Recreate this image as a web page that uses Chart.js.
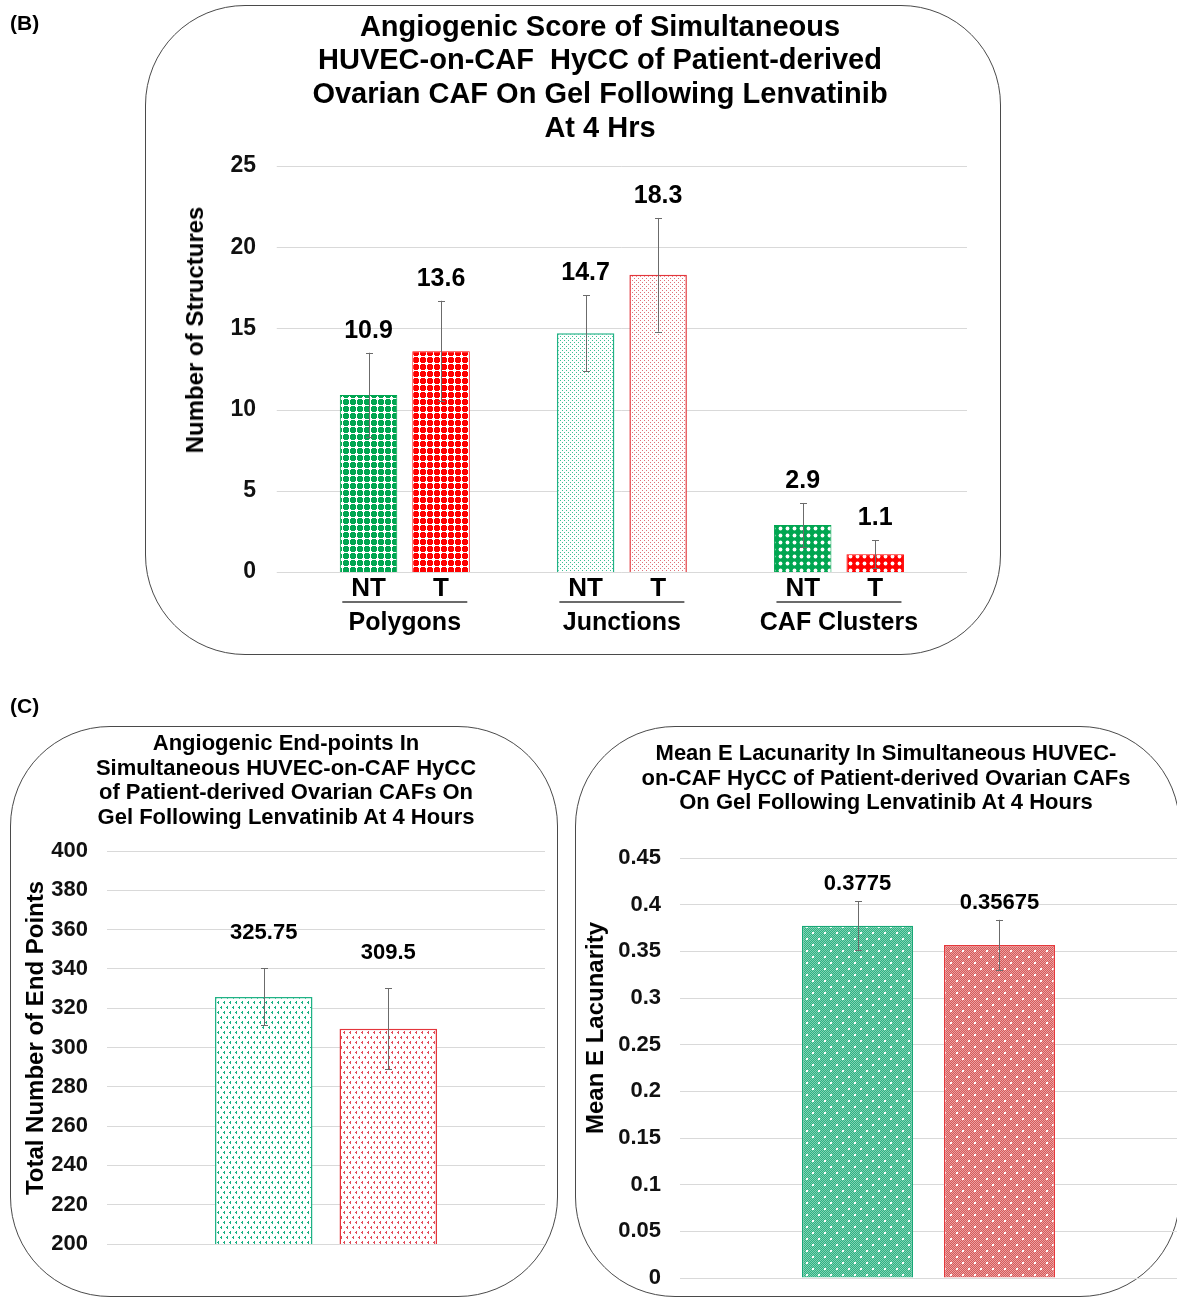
<!DOCTYPE html>
<html>
<head>
<meta charset="utf-8">
<script src="https://cdn.jsdelivr.net/npm/chart.js@4.4.1/dist/chart.umd.min.js"></script>
<style>
  html, body { margin: 0; padding: 0; background: #fff; }
  body { position: relative; width: 1177px; height: 1299px; overflow: hidden;
         font-family: "Liberation Sans", Arial, sans-serif; font-weight: bold; color: #000; }
  .frame { position: absolute; box-sizing: border-box; border: 1.5px solid #4a4a4a; border-radius: 100px; }
  .panel { position: absolute; font-size: 21px; line-height: 21px; }
  .title { position: absolute; text-align: center; white-space: pre; }
  .ytitle { position: absolute; white-space: nowrap; font-size: 24px; line-height: 24px;
            transform: translate(-50%, -50%) rotate(-90deg); }
  canvas { position: absolute; }
</style>
</head>
<body>
<div class="frame" style="left:145px;top:5px;width:856px;height:650px"></div>
<div class="frame" style="left:10px;top:726px;width:548px;height:571px"></div>
<div class="frame" style="left:575px;top:726px;width:605px;height:571px"></div>

<canvas id="structuresChart" width="1177" height="660" style="left:0;top:0"></canvas>
<canvas id="endPointsChart" width="570" height="609" style="left:0;top:690px"></canvas>
<canvas id="lacunarityChart" width="607" height="609" style="left:570px;top:690px"></canvas>

<div class="panel" style="left:10px;top:12px">(B)</div>
<div class="panel" style="left:10px;top:695px">(C)</div>

<div class="title" style="left:300px;top:9.5px;width:600px;font-size:29px;line-height:33.7px">Angiogenic Score of Simultaneous<br>HUVEC-on-CAF  HyCC of Patient-derived<br>Ovarian CAF On Gel Following Lenvatinib<br>At 4 Hrs</div>
<div class="title" style="left:36px;top:731px;width:500px;font-size:22px;line-height:24.5px">Angiogenic End-points In<br>Simultaneous HUVEC-on-CAF HyCC<br>of Patient-derived Ovarian CAFs On<br>Gel Following Lenvatinib At 4 Hours</div>
<div class="title" style="left:636px;top:741px;width:500px;font-size:22px;line-height:24.5px">Mean E Lacunarity In Simultaneous HUVEC-<br>on-CAF HyCC of Patient-derived Ovarian CAFs<br>On Gel Following Lenvatinib At 4 Hours</div>

<div class="ytitle" style="left:195px;top:330px">Number of Structures</div>
<div class="ytitle" style="left:35px;top:1038px">Total Number of End Points</div>
<div class="ytitle" style="left:595px;top:1028px">Mean E Lacunarity</div>

<script>
// ---- data ----
const seriesNames = ['NT', 'T'];

const structureGroups = ['Polygons', 'Junctions', 'CAF Clusters'];
const structuresNT = [10.9, 14.7, 2.9];
const structuresT = [13.6, 18.3, 1.1];
const structuresNTErr = [2.6, 2.35, 1.35];
const structuresTErr = [3.1, 3.5, 0.87];
const structureTicks = [0, 5, 10, 15, 20, 25];

const endPointGroups = ['Total end points'];
const endPointsNT = [325.75];
const endPointsT = [309.5];
const endPointsNTErr = [14.5];
const endPointsTErr = [20.6];
const endPointTicks = [200, 220, 240, 260, 280, 300, 320, 340, 360, 380, 400];

const lacunarityGroups = ['Mean E lacunarity'];
const lacunarityNT = [0.3775];
const lacunarityT = [0.35675];
const lacunarityNTErr = [0.026];
const lacunarityTErr = [0.027];
const lacunarityTicks = [0, 0.05, 0.1, 0.15, 0.2, 0.25, 0.3, 0.35, 0.4, 0.45];

// ---- fill patterns ----
const FONT = '"Liberation Sans", Arial, sans-serif';
const boldFont = size => `bold ${size}px ${FONT}`;

function tile(w, h, paint) {
  const c = document.createElement('canvas');
  c.width = w; c.height = h;
  const g = c.getContext('2d');
  paint(g, w, h);
  return g.createPattern(c, 'repeat');
}
const dots = (g, pts) => pts.forEach(([x, y]) => g.fillRect(x, y, 1, 1));

// rounded blobs on white, separated by thin white lanes
const blobGrid = col => tile(7, 7, (g) => {
  g.fillStyle = '#fff'; g.fillRect(0, 0, 7, 7);
  g.fillStyle = col; g.fillRect(0, 1, 6, 4); g.fillRect(1, 0, 4, 6);
});
// sparse diagonal dot lattice on white
const lattice = col => tile(8, 8, (g) => {
  g.fillStyle = '#fff'; g.fillRect(0, 0, 8, 8);
  g.fillStyle = col;
  dots(g, [[0, 0], [2, 2], [4, 0], [0, 4], [4, 4], [6, 2], [2, 6], [6, 6]]);
});
// white round holes on solid colour
const holeGrid = col => tile(7, 7, (g) => {
  g.fillStyle = col; g.fillRect(0, 0, 7, 7);
  g.fillStyle = '#fff'; g.beginPath(); g.arc(3.5, 3.5, 1.9, 0, Math.PI * 2); g.fill();
});
// tiny arrowheads on white, staggered rows
const chevrons = col => tile(6, 10, (g) => {
  g.fillStyle = '#fff'; g.fillRect(0, 0, 6, 10);
  g.fillStyle = col;
  dots(g, [[2, 1], [1, 2], [2, 2], [2, 3], [5, 6], [4, 7], [5, 7], [5, 8]]);
});
// fine checker with sparse white specks
const speckle = (dark, light) => tile(12, 12, (g) => {
  g.fillStyle = dark; g.fillRect(0, 0, 12, 12);
  g.fillStyle = light;
  for (let y = 0; y < 12; y++) for (let x = y % 2; x < 12; x += 2) g.fillRect(x, y, 1, 1);
  g.fillStyle = '#fff';
  g.fillRect(2, 2, 2, 2); g.fillRect(8, 8, 2, 2);
});

const GREEN = '#00A651', RED = '#FF0000';
const MINT = '#20B285', CORAL = '#E3363C';

// ---- error bars, value labels and category captions ----
const barNotes = {
  id: 'barNotes',
  beforeDatasetsDraw(chart, _args, o) {
    if (o.gridExtend === undefined) return;
    const { ctx, chartArea, scales: { y } } = chart;
    ctx.save();
    ctx.strokeStyle = '#d9d9d9';
    ctx.lineWidth = 1;
    y.ticks.forEach(t => {
      const py = Math.round(y.getPixelForValue(t.value)) + 0.5;
      ctx.beginPath();
      ctx.moveTo(chartArea.left - o.gridExtend, py);
      ctx.lineTo(chartArea.right + o.gridExtend, py);
      ctx.stroke();
    });
    ctx.restore();
  },
  afterDatasetsDraw(chart, _args, o) {
    const { ctx, chartArea, scales: { x, y } } = chart;
    ctx.save();
    ctx.textAlign = 'center';
    ctx.textBaseline = 'alphabetic';
    chart.data.datasets.forEach((ds, di) => {
      chart.getDatasetMeta(di).data.forEach((bar, i) => {
        const v = ds.data[i], e = ds.errors[i];
        const yTop = y.getPixelForValue(v + e);
        const yBot = y.getPixelForValue(v - e);
        const bx = Math.round(bar.x) + 0.5;
        ctx.strokeStyle = '#6b6b6b';
        ctx.lineWidth = 1;
        ctx.beginPath();
        ctx.moveTo(bx, yTop); ctx.lineTo(bx, yBot);
        ctx.moveTo(bx - 3.5, Math.round(yTop) + 0.5); ctx.lineTo(bx + 3.5, Math.round(yTop) + 0.5);
        ctx.moveTo(bx - 3.5, Math.round(yBot) + 0.5); ctx.lineTo(bx + 3.5, Math.round(yBot) + 0.5);
        ctx.stroke();
        ctx.fillStyle = '#000';
        ctx.font = boldFont(o.valueSize);
        ctx.fillText(String(v), bar.x, yTop - o.valueGap);
        if (o.seriesDrop !== undefined) {
          ctx.font = boldFont(o.seriesSize);
          ctx.fillText(ds.label, bar.x, chartArea.bottom + o.seriesDrop);
        }
      });
    });
    if (o.groupDrop !== undefined) {
      chart.data.labels.forEach((lab, i) => {
        const cx = x.getPixelForValue(i);
        const ry = chartArea.bottom + o.ruleDrop;
        ctx.strokeStyle = '#3a3a3a';
        ctx.lineWidth = 1.5;
        ctx.beginPath();
        ctx.moveTo(cx - o.ruleHalf, ry); ctx.lineTo(cx + o.ruleHalf, ry);
        ctx.stroke();
        ctx.fillStyle = '#000';
        ctx.font = boldFont(o.groupSize);
        ctx.fillText(lab, cx, chartArea.bottom + o.groupDrop);
      });
    }
    ctx.restore();
  }
};

function valueAxis(values, fontSize, labelGap, width, showGrid) {
  return {
    min: values[0],
    max: values[values.length - 1],
    afterBuildTicks: s => { s.ticks = values.map(v => ({ value: v })); },
    // fixed axis width; the plot box is set by the layout padding alone
    afterFit: s => { s.width = width; s.paddingTop = 0; s.paddingBottom = 0; },
    border: { display: false },
    grid: { display: showGrid, drawTicks: false, color: '#d9d9d9', lineWidth: 1 },
    ticks: {
      autoSkip: false, padding: labelGap, color: '#111',
      font: { family: FONT, size: fontSize, weight: 'bold' },
      callback: v => String(v)
    }
  };
}

function baseOptions(padding, yAxis, notes) {
  return {
    responsive: false,
    animation: false,
    devicePixelRatio: 1,
    layout: { padding },
    scales: { x: { display: false }, y: yAxis },
    plugins: {
      legend: { display: false },
      tooltip: { enabled: false },
      title: { display: false },
      barNotes: notes
    }
  };
}

// (B) structures per category
new Chart(document.getElementById('structuresChart'), {
  type: 'bar',
  data: {
    labels: structureGroups,
    datasets: [
      {
        label: seriesNames[0], data: structuresNT, errors: structuresNTErr,
        backgroundColor: [blobGrid(GREEN), lattice('#3cbf94'), holeGrid(GREEN)],
        borderColor: [GREEN, MINT, GREEN], borderWidth: [1, 1.5, 1],
        categoryPercentage: 0.668, barPercentage: 0.793
      },
      {
        label: seriesNames[1], data: structuresT, errors: structuresTErr,
        backgroundColor: [blobGrid(RED), lattice('#e07078'), holeGrid(RED)],
        borderColor: [RED, CORAL, RED], borderWidth: [1, 1.5, 1],
        categoryPercentage: 0.668, barPercentage: 0.793
      }
    ]
  },
  options: baseOptions(
    { left: 0, top: 166, right: 229.5, bottom: 88 },
    valueAxis(structureTicks, 23, 40.25, 296.25, false),
    { gridExtend: 19.5, valueSize: 25, valueGap: 15,
      seriesSize: 26, seriesDrop: 24, ruleDrop: 30, ruleHalf: 62.5,
      groupSize: 25, groupDrop: 58 }
  ),
  plugins: [barNotes]
});

// (C) total end points
new Chart(document.getElementById('endPointsChart'), {
  type: 'bar',
  data: {
    labels: endPointGroups,
    datasets: [
      {
        label: seriesNames[0], data: endPointsNT, errors: endPointsNTErr,
        backgroundColor: chevrons('#19b083'), borderColor: MINT, borderWidth: 1.5,
        categoryPercentage: 0.5685, barPercentage: 0.783
      },
      {
        label: seriesNames[1], data: endPointsT, errors: endPointsTErr,
        backgroundColor: chevrons('#e24c5a'), borderColor: CORAL, borderWidth: 1.5,
        categoryPercentage: 0.5685, barPercentage: 0.783
      }
    ]
  },
  options: baseOptions(
    { left: 0, top: 161, right: 25, bottom: 55 },
    valueAxis(endPointTicks, 22, 19, 107, true),
    { valueSize: 22, valueGap: 29 }
  ),
  plugins: [barNotes]
});

// (C) mean E lacunarity
new Chart(document.getElementById('lacunarityChart'), {
  type: 'bar',
  data: {
    labels: lacunarityGroups,
    datasets: [
      {
        label: seriesNames[0], data: lacunarityNT, errors: lacunarityNTErr,
        backgroundColor: speckle('#2eb283', '#7fd2b2'), borderColor: '#17a876', borderWidth: 1.5,
        categoryPercentage: 0.5714, barPercentage: 0.782
      },
      {
        label: seriesNames[1], data: lacunarityT, errors: lacunarityTErr,
        backgroundColor: speckle('#d65a5a', '#eba0a0'), borderColor: '#e5383b', borderWidth: 1.5,
        categoryPercentage: 0.5714, barPercentage: 0.782
      }
    ]
  },
  options: baseOptions(
    { left: 0, top: 168, right: 0, bottom: 21 },
    valueAxis(lacunarityTicks, 22, 19, 110, true),
    { valueSize: 22, valueGap: 11 }
  ),
  plugins: [barNotes]
});
</script>
</body>
</html>
